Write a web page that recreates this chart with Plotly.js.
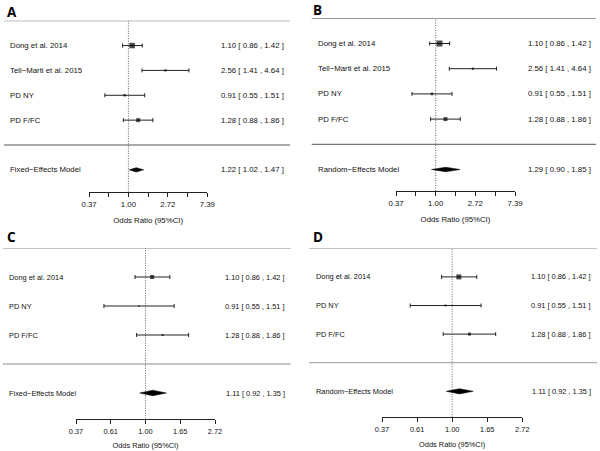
<!DOCTYPE html>
<html>
<head>
<meta charset="utf-8">
<script src="https://cdn.plot.ly/plotly-3.0.1.min.js"></script>
<style>html,body{margin:0;padding:0;background:#fff;}#chart{width:600px;height:451px;}</style>
</head>
<body>
<div id="chart"></div>
<script>
// ---------- data ----------
const studiesAB = ['Dong et al. 2014', 'Tell\u2212Marti et al. 2015', 'PD NY', 'PD F/FC'];
const orAB = [1.10, 2.56, 0.91, 1.28];
const loAB = [0.86, 1.41, 0.55, 0.88];
const hiAB = [1.42, 4.64, 1.51, 1.86];

const studiesCD = ['Dong et al. 2014', 'PD NY', 'PD F/FC'];
const orCD = [1.10, 0.91, 1.28];
const loCD = [0.86, 0.55, 0.88];
const hiCD = [1.42, 1.51, 1.86];

const panelLetters = ['A', 'B', 'C', 'D'];
const modelNames = ['Fixed\u2212Effects Model', 'Random\u2212Effects Model', 'Fixed\u2212Effects Model', 'Random\u2212Effects Model'];
const modelOR = [1.22, 1.29, 1.11, 1.11];
const modelLo = [1.02, 0.90, 0.92, 0.92];
const modelHi = [1.47, 1.85, 1.35, 1.35];

const tickLnAB = [-1, -0.5, 0, 0.5, 1, 1.5, 2];
const tickTextAB = ['0.37', '', '1.00', '', '2.72', '', '7.39'];
const tickLnCD = [-1, -0.5, 0, 0.5, 1];
const tickTextCD = ['0.37', '0.61', '1.00', '1.65', '2.72'];
const axisTitle = 'Odds Ratio (95%CI)';

// ---------- styles / layout (pixels) ----------
const W = 600, H = 451;
const panels = [
  {names: studiesAB, est: orAB, lo: loAB, hi: hiAB, ticks: tickLnAB, tickText: tickTextAB,
   xDom: [89, 207.3], lnRange: [-1, 2], top: 20.7, sep: 145, axis: 191.7,
   lineX: [4, 290], leftX: 8.3, rightX: 285.5, letter: [4.5, 11.5], fs: 7.8,
   sizes: [5.5, 2.2, 2.4, 4], diamondHalf: 2.2, hline: '#555', tstand: 8.5},
  {names: studiesAB, est: orAB, lo: loAB, hi: hiAB, ticks: tickLnAB, tickText: tickTextAB,
   xDom: [396, 515], lnRange: [-1, 2], top: 18.3, sep: 144.3, axis: 191,
   lineX: [311.7, 596], leftX: 315.7, rightX: 593, letter: [311, 9.5], fs: 7.8,
   sizes: [6, 2.2, 2.6, 4], diamondHalf: 2.3, hline: '#555', tstand: 8.5},
  {names: studiesCD, est: orCD, lo: loCD, hi: hiCD, ticks: tickLnCD, tickText: tickTextCD,
   xDom: [76, 215], lnRange: [-1, 1], top: 248, sep: 364, axis: 418.7,
   lineX: [3, 290.7], leftX: 6.7, rightX: 286.5, letter: [4.5, 236.5], fs: 7.4,
   sizes: [4, 1.5, 2], diamondHalf: 2.8, hline: '#888', tstand: 8},
  {names: studiesCD, est: orCD, lo: loCD, hi: hiCD, ticks: tickLnCD, tickText: tickTextCD,
   xDom: [382, 522.3], lnRange: [-1, 1], top: 248.3, sep: 362.7, axis: 417.3,
   lineX: [309, 597], leftX: 314, rightX: 593, letter: [310.5, 236.5], fs: 7.4,
   sizes: [5, 2, 3], diamondHalf: 2.6, hline: '#999', tstand: 8}
];

const LOG10E = Math.LOG10E;
const fmt = v => v.toFixed(2);
const txtColor = '#111';
const lineColor = '#222';
const fontFam = '"Liberation Sans", Arial, sans-serif';

const data = [];
const layout = {
  width: W, height: H,
  margin: {l: 0, r: 0, t: 0, b: 0},
  paper_bgcolor: '#fff', plot_bgcolor: 'rgba(0,0,0,0)',
  showlegend: false,
  font: {family: fontFam, color: txtColor, size: 7.8},
  annotations: [], shapes: []
};

panels.forEach((p, i) => {
  const n = i + 1;
  const xa = 'x' + (n === 1 ? '' : n), ya = 'y' + (n === 1 ? '' : n);
  const xk = 'xaxis' + (n === 1 ? '' : n), yk = 'yaxis' + (n === 1 ? '' : n);
  const k = p.names.length;
  const pitch = (p.sep - p.top) / (k + 1);
  const axisRow = -(p.axis - p.sep) / pitch;
  const rows = p.names.map((_, j) => k - j);
  const modelRow = -1;

  layout[xk] = {
    type: 'log', domain: [p.xDom[0] / W, p.xDom[1] / W],
    range: [p.lnRange[0] * LOG10E, p.lnRange[1] * LOG10E],
    anchor: ya, showgrid: false, zeroline: false, showline: true,
    linecolor: lineColor, linewidth: 1, ticks: 'outside', ticklen: 4, tickwidth: 1,
    tickcolor: lineColor, tickmode: 'array',
    tickvals: p.ticks.map(t => Math.exp(t)), ticktext: p.tickText,
    tickfont: {size: p.fs, color: txtColor, family: fontFam},
    ticklabelstandoff: 1,
    title: {text: axisTitle, font: {size: p.fs, color: txtColor, family: fontFam}, standoff: p.tstand},
    fixedrange: true
  };
  layout[yk] = {
    domain: [1 - p.axis / H, 1 - p.top / H], range: [axisRow, k + 1],
    anchor: xa, visible: false, fixedrange: true
  };

  // study CIs + squares
  data.push({
    type: 'scatter', mode: 'markers', xaxis: xa, yaxis: ya,
    x: p.est, y: rows,
    marker: {symbol: 'square', size: p.sizes, color: '#000', line: {width: 0}},
    error_x: {type: 'data', symmetric: false,
      array: p.est.map((e, j) => p.hi[j] - e),
      arrayminus: p.est.map((e, j) => e - p.lo[j]),
      color: lineColor, thickness: 1, width: 2},
    cliponaxis: false, hoverinfo: 'skip'
  });

  // summary diamond
  const h = p.diamondHalf / pitch;
  data.push({
    type: 'scatter', mode: 'lines', xaxis: xa, yaxis: ya,
    x: [modelLo[i], modelOR[i], modelHi[i], modelOR[i], modelLo[i]],
    y: [modelRow, modelRow + h, modelRow, modelRow - h, modelRow],
    fill: 'toself', fillcolor: '#000', line: {width: 0.5, color: '#000'},
    cliponaxis: false, hoverinfo: 'skip'
  });

  // reference dotted line at OR = 1
  layout.shapes.push({type: 'line', xref: xa, yref: ya, x0: 1, x1: 1, y0: axisRow, y1: k + 1,
    line: {color: '#666', width: 1, dash: '1px,1.5px'}, layer: 'below'});
  // top line and separator
  [k + 1, 0].forEach(r => layout.shapes.push({type: 'line', xref: 'paper', yref: ya,
    x0: p.lineX[0] / W, x1: p.lineX[1] / W, y0: r, y1: r,
    line: {color: p.hline, width: 1}}));

  // text labels
  p.names.forEach((nm, j) => {
    layout.annotations.push({xref: 'paper', yref: ya, x: p.leftX / W, y: rows[j], text: nm,
      xanchor: 'left', yanchor: 'middle', showarrow: false, font: {size: p.fs, color: txtColor}});
    layout.annotations.push({xref: 'paper', yref: ya, x: p.rightX / W, y: rows[j],
      text: fmt(p.est[j]) + ' [ ' + fmt(p.lo[j]) + ' , ' + fmt(p.hi[j]) + ' ]',
      xanchor: 'right', yanchor: 'middle', showarrow: false, font: {size: p.fs, color: txtColor}});
  });
  layout.annotations.push({xref: 'paper', yref: ya, x: p.leftX / W, y: modelRow, text: modelNames[i],
    xanchor: 'left', yanchor: 'middle', showarrow: false, font: {size: p.fs, color: txtColor}});
  layout.annotations.push({xref: 'paper', yref: ya, x: p.rightX / W, y: modelRow,
    text: fmt(modelOR[i]) + ' [ ' + fmt(modelLo[i]) + ' , ' + fmt(modelHi[i]) + ' ]',
    xanchor: 'right', yanchor: 'middle', showarrow: false, font: {size: p.fs, color: txtColor}});

  // panel letter
  layout.annotations.push({xref: 'paper', yref: 'paper', x: p.letter[0] / W, y: 1 - p.letter[1] / H,
    text: '<b>' + panelLetters[i] + '</b>', xanchor: 'left', yanchor: 'middle', showarrow: false,
    font: {size: 13.5, color: '#000', family: '"Open Sans", "Liberation Sans", sans-serif'}});
});

Plotly.newPlot('chart', data, layout, {staticPlot: true, displayModeBar: false});
</script>
</body>
</html>
